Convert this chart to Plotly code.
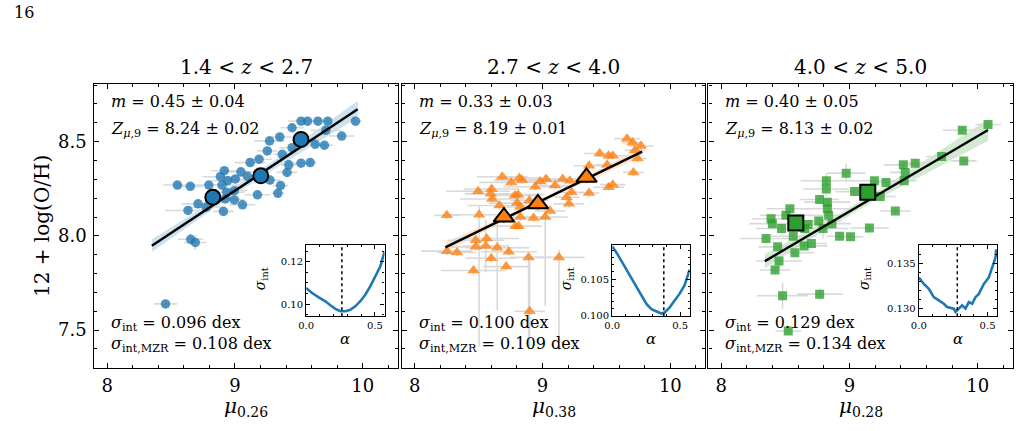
import numpy as np
import plotly.graph_objects as go

W, H = 1020, 431

# ---------------- data: panel 1 (1.4 < z < 2.7) ----------------
p1_mu = [9.447, 9.351, 9.271, 9.253, 9.447, 9.370, 9.189, 9.119, 9.421, 9.408,
         8.917, 9.047, 8.886, 9.003, 9.098, 9.274, 8.943, 8.550, 8.651, 8.796,
         8.899, 9.357, 8.995, 8.935, 9.176, 9.336, 8.925, 8.995, 8.711, 9.059,
         8.775, 8.633, 8.910, 8.654, 8.690, 8.457, 9.517, 9.568, 9.649, 9.726,
         9.943, 9.711, 9.835, 9.628, 9.700, 9.517, 9.589]
p1_oh = [8.574, 8.525, 8.504, 8.451, 8.468, 8.433, 8.407, 8.389, 8.377, 8.337,
         8.346, 8.340, 8.314, 8.302, 8.316, 8.296, 8.293, 8.270, 8.263, 8.270,
         8.270, 8.267, 8.240, 8.232, 8.218, 8.226, 8.196, 8.191, 8.170, 8.165,
         8.153, 8.135, 8.130, 7.982, 7.965, 7.639, 8.609, 8.609, 8.609, 8.609,
         8.609, 8.560, 8.530, 8.486, 8.481, 8.386, 8.389]
p1_xerr = [0.09, 0.10, 0.12, 0.08, 0.10, 0.07, 0.10, 0.12, 0.06, 0.08,
           0.10, 0.12, 0.14, 0.10, 0.09, 0.08, 0.12, 0.11, 0.10, 0.15,
           0.13, 0.06, 0.10, 0.14, 0.10, 0.05, 0.12, 0.08, 0.13, 0.10,
           0.15, 0.18, 0.08, 0.10, 0.09, 0.09, 0.10, 0.08, 0.10, 0.07,
           0.05, 0.12, 0.10, 0.08, 0.07, 0.06, 0.05]
p1_yerr = [0.02] * 33 + [0.03, 0.04, 0.02] + [0.02] * 11
p1_med_mu = [8.827, 9.202, 9.517]
p1_med_oh = [8.205, 8.319, 8.512]
p1_med_xerr = [0.03, 0.03, 0.03]
p1_med_yerr = [0.02, 0.02, 0.02]
p1_alpha = [0.0, 0.0435, 0.0918, 0.140, 0.176, 0.2125, 0.249, 0.285, 0.321,
            0.357, 0.394, 0.430, 0.466, 0.502, 0.539, 0.570]
p1_sigma = [0.1075, 0.1052, 0.1031, 0.1013, 0.0994, 0.0977, 0.0966, 0.0966,
            0.0973, 0.0989, 0.1013, 0.1044, 0.1083, 0.1127, 0.1177, 0.1247]

# ---------------- data: panel 2 (2.7 < z < 4.0) ----------------
p2_mu = [8.685, 8.755, 8.819, 8.840, 8.982, 9.028, 9.098, 9.158, 9.214, 8.943,
         8.496, 8.602, 8.594, 8.607, 8.783, 8.809, 8.801, 8.897, 8.827, 8.664,
         9.189, 9.207, 8.251, 8.504, 8.827, 8.930, 9.021, 9.059, 8.788, 8.814,
         8.478, 8.563, 8.478, 8.556, 8.646, 8.253, 8.331, 8.736, 8.599, 8.891,
         9.129, 8.460, 8.716, 8.899, 9.661, 9.705, 9.770, 9.724, 9.744, 9.711,
         9.447, 9.517, 9.550, 9.506, 9.364, 9.550, 9.517, 9.364, 9.227]
p2_oh = [8.314, 8.284, 8.307, 8.296, 8.288, 8.302, 8.267, 8.302, 8.293, 8.261,
         8.237, 8.249, 8.223, 8.196, 8.214, 8.219, 8.174, 8.188, 8.153, 8.161,
         8.205, 8.170, 8.109, 8.112, 8.100, 8.095, 8.100, 8.132, 8.051, 8.051,
         7.977, 7.986, 7.942, 7.946, 7.937, 7.919, 7.912, 7.916, 7.881, 7.886,
         7.886, 7.816, 7.837, 7.600, 8.516, 8.495, 8.477, 8.454, 8.411, 8.337,
         8.437, 8.425, 8.425, 8.377, 8.372, 8.272, 8.258, 8.228, 8.232]
p2_xerr = [0.20, 0.25, 0.18, 0.22, 0.15, 0.20, 0.12, 0.18, 0.15, 0.25,
           0.25, 0.22, 0.20, 0.25, 0.18, 0.20, 0.22, 0.15, 0.20, 0.25,
           0.10, 0.12, 0.10, 0.28, 0.20, 0.15, 0.18, 0.12, 0.20, 0.18,
           0.22, 0.25, 0.20, 0.18, 0.25, 0.20, 0.15, 0.22, 0.20, 0.15,
           0.20, 0.25, 0.18, 0.12, 0.10, 0.08, 0.10, 0.08, 0.07, 0.08,
           0.12, 0.10, 0.12, 0.10, 0.12, 0.10, 0.12, 0.08, 0.10]
p2_yerr_up = [0.02] * 23 + [0.05, 0.02, 0.02, 0.05] + [0.02] * 6 + [0.14, 0.15] + \
             [0.02] * 4 + [0.02, 0.04, 0.02, 0.02, 0.29] + [0.02] * 15
p2_yerr_dn = [0.02] * 23 + [0.70, 0.02, 0.02, 0.47] + [0.02] * 6 + [0.14, 0.33] + \
             [0.02] * 4 + [0.49, 0.49, 0.02, 0.02, 0.20] + [0.02] * 15
p2_med_mu = [8.698, 8.964, 9.344]
p2_med_oh = [8.100, 8.170, 8.311]
p2_med_xerr = [0.03, 0.03, 0.03]
p2_med_yerr = [0.03, 0.03, 0.03]
p2_alpha = [0.0, 0.0318, 0.0685, 0.1052, 0.1419, 0.1786, 0.2153, 0.2520, 0.2886,
            0.3253, 0.362, 0.3865, 0.4232, 0.4599, 0.4966, 0.5333, 0.57]
p2_sigma = [0.10949, 0.10864, 0.10748, 0.10631, 0.10514, 0.10397, 0.10280,
            0.10164, 0.10093, 0.10061, 0.10033, 0.10047, 0.10117, 0.10210,
            0.10304, 0.10421, 0.10631]

# ---------------- data: panel 3 (4.0 < z < 5.0) ----------------
p3_mu = [10.080, 9.879, 9.718, 9.891, 9.512, 9.419, 9.434, 9.426, 8.974, 9.194,
         9.284, 8.819, 8.819, 9.039, 9.240, 8.767, 8.827, 8.827, 8.837, 9.357,
         8.760, 8.863, 8.793, 8.677, 8.535, 8.504, 8.388, 8.398, 8.470, 8.651,
         8.561, 8.349, 8.439, 8.646, 8.703, 8.574, 8.450, 8.419, 8.922, 9.008,
         9.155, 8.478, 8.767, 8.522]
p3_oh = [8.591, 8.561, 8.421, 8.398, 8.386, 8.377, 8.337, 8.293, 8.333, 8.293,
         8.284, 8.293, 8.249, 8.235, 8.209, 8.193, 8.179, 8.144, 8.109, 8.132,
         8.079, 8.065, 8.039, 8.061, 8.144, 8.109, 8.091, 8.065, 8.039, 8.039,
         7.998, 7.986, 7.942, 7.947, 7.960, 7.911, 7.867, 7.819, 7.998, 7.995,
         8.042, 7.682, 7.691, 7.495]
p3_xerr = [0.10, 0.15, 0.12, 0.10, 0.10, 0.15, 0.12, 0.10, 0.15, 0.18,
           0.12, 0.20, 0.18, 0.15, 0.12, 0.15, 0.18, 0.20, 0.15, 0.12,
           0.18, 0.15, 0.20, 0.15, 0.18, 0.20, 0.15, 0.18, 0.20, 0.15,
           0.18, 0.20, 0.15, 0.18, 0.12, 0.15, 0.18, 0.12, 0.10, 0.10,
           0.15, 0.20, 0.18, 0.10]
p3_yerr = [0.02] * 8 + [0.05, 0.02, 0.02, 0.04, 0.04] + [0.02] * 9 + [0.05, 0.02] + \
          [0.02] * 6 + [0.06, 0.02, 0.02, 0.02, 0.02, 0.02, 0.04, 0.02, 0.02, 0.02,
                        0.02, 0.07, 0.03, 0.02]
p3_med_mu = [8.581, 9.142]
p3_med_oh = [8.068, 8.232]
p3_med_xerr = [0.05, 0.03]
p3_med_yerr = [0.03, 0.02]
p3_alpha = [0.0, 0.0364, 0.0728, 0.1091, 0.1455, 0.1819, 0.2061, 0.2304, 0.2547,
            0.2668, 0.2910, 0.3153, 0.3395, 0.3638, 0.3880, 0.4123, 0.4365,
            0.4729, 0.5093, 0.5336, 0.5578, 0.5627]
p3_sigma = [0.13344, 0.13270, 0.13215, 0.13122, 0.13085, 0.13048, 0.13011,
            0.13004, 0.12993, 0.12956, 0.12993, 0.13030, 0.12993, 0.13067,
            0.13048, 0.13122, 0.13159, 0.13270, 0.13344, 0.13456, 0.13567,
            0.13659]

# fit parameters & labels
slopes = [0.45, 0.33, 0.40]
slope_err = [0.04, 0.03, 0.05]
zmu9 = [8.24, 8.19, 8.13]
zmu9_err = [0.02, 0.01, 0.02]
sig_int = ["0.096", "0.100", "0.129"]
sig_mzr = ["0.108", "0.109", "0.134"]
best_alpha = [0.26, 0.38, 0.28]
fit_xrange = [(8.35, 9.96), (8.24, 9.78), (8.34, 10.08)]
zbins = [("1.4", "2.7"), ("2.7", "4.0"), ("4.0", "5.0")]
xlabels = ["0.26", "0.38", "0.28"]
inset_yticks = [([0.10, 0.12], ["0.10", "0.12"], 0.005, [0.0942, 0.1278]),
                ([0.100, 0.105], ["0.100", "0.105"], 0.001, [0.09995, 0.10967]),
                ([0.130, 0.135], ["0.130", "0.135"], 0.001, [0.12907, 0.13707])]

# ---------------- layout geometry (pixels) ----------------
def fx(p):
    return p / W

def fy(p):
    return 1 - p / H

panel_px = [(87, 393), (397, 703), (706, 1013)]
ptop, pbot = 85, 372.7
inset_px = [(300.5, 379.5), (609, 687), (918, 997)]
itop, ibot = 248, 320

colors = ["#1f77b4", "#ff7f0e", "#2ca02c"]
band_rgba = ["rgba(31,119,180,0.22)", "rgba(255,127,14,0.22)", "rgba(44,160,44,0.22)"]
symbols = ["circle", "triangle-up", "square"]
msize = [9.5, 11, 9]
bigsize = [15, 18, 15]
FONT = "DejaVu Serif"

data = [
    (p1_mu, p1_oh, p1_xerr, p1_yerr, p1_yerr, p1_med_mu, p1_med_oh, p1_med_xerr, p1_med_yerr, p1_alpha, p1_sigma),
    (p2_mu, p2_oh, p2_xerr, p2_yerr_up, p2_yerr_dn, p2_med_mu, p2_med_oh, p2_med_xerr, p2_med_yerr, p2_alpha, p2_sigma),
    (p3_mu, p3_oh, p3_xerr, p3_yerr, p3_yerr, p3_med_mu, p3_med_oh, p3_med_xerr, p3_med_yerr, p3_alpha, p3_sigma),
]

fig = go.Figure()
annotations = []
shapes = []
layout = {}

axis_common = dict(showline=True, linecolor="black", linewidth=1.2, mirror="allticks",
                   ticks="inside", tickcolor="black", ticklen=5, tickwidth=1,
                   showgrid=False, zeroline=False)

for i in range(3):
    mu, oh, xe, yeu, yed, mmu, moh, mxe, mye, al, sg = data[i]
    xa = "x" if i == 0 else f"x{i+1}"
    ya = "y" if i == 0 else f"y{i+1}"
    xi = f"x{i+4}"
    yi = f"y{i+4}"

    # fit band and line
    x0, x1 = fit_xrange[i]
    xs = np.linspace(x0, x1, 50)
    yfit = zmu9[i] + slopes[i] * (xs - 9)
    spread = np.sqrt(zmu9_err[i] ** 2 + (slope_err[i] * (xs - 9)) ** 2)
    fig.add_trace(go.Scatter(x=np.concatenate([xs, xs[::-1]]),
                             y=np.concatenate([yfit + spread, (yfit - spread)[::-1]]),
                             fill="toself", fillcolor=band_rgba[i], line=dict(width=0),
                             mode="lines", hoverinfo="skip", showlegend=False,
                             xaxis=xa, yaxis=ya))
    # data points
    fig.add_trace(go.Scatter(x=mu, y=oh, mode="markers",
                             marker=dict(symbol=symbols[i], size=msize[i], color=colors[i],
                                         opacity=0.78, line=dict(width=0)),
                             error_x=dict(type="data", array=xe, color="#d9d9d9", thickness=1.6, width=0),
                             error_y=dict(type="data", array=yeu, arrayminus=yed, symmetric=False,
                                          color="#d9d9d9", thickness=1.6, width=0),
                             showlegend=False, xaxis=xa, yaxis=ya))
    fig.add_trace(go.Scatter(x=[x0, x1], y=[zmu9[i] + slopes[i] * (x0 - 9), zmu9[i] + slopes[i] * (x1 - 9)],
                             mode="lines", line=dict(color="black", width=2.4),
                             showlegend=False, xaxis=xa, yaxis=ya))
    # binned medians
    fig.add_trace(go.Scatter(x=mmu, y=moh, mode="markers",
                             marker=dict(symbol=symbols[i], size=bigsize[i], color=colors[i],
                                         line=dict(width=2, color="black")),
                             error_x=dict(type="data", array=mxe, color="black", thickness=1.3, width=0),
                             error_y=dict(type="data", array=mye, color="black", thickness=1.3, width=0),
                             showlegend=False, xaxis=xa, yaxis=ya))
    # inset curve
    fig.add_trace(go.Scatter(x=al, y=sg, mode="lines", line=dict(color="#1f77b4", width=2.6),
                             showlegend=False, xaxis=xi, yaxis=yi))
    shapes.append(dict(type="line", xref=xi, yref=f"{yi} domain", x0=best_alpha[i], x1=best_alpha[i],
                       y0=0, y1=1, line=dict(color="black", width=1.5, dash="dot")))

    l, r = panel_px[i]
    key = "" if i == 0 else str(i + 1)
    layout["xaxis" + key] = dict(axis_common, domain=[fx(l), fx(r)], range=[7.9, 10.275],
                                 tickvals=[8, 9, 10], anchor=ya, ticklabelstandoff=1,
                                 tickfont=dict(family=FONT, size=18, color="black"),
                                 minor=dict(ticks="inside", ticklen=3, dtick=0.2, tick0=8, tickcolor="black"))
    layout["yaxis" + key] = dict(axis_common, domain=[fy(pbot), fy(ptop)], range=[7.297, 8.806],
                                 tickvals=[7.5, 8.0, 8.5], ticktext=["7.5", "8.0", "8.5"], anchor=xa,
                                 showticklabels=(i == 0), ticklabelstandoff=3,
                                 tickfont=dict(family=FONT, size=18, color="black"),
                                 minor=dict(ticks="inside", ticklen=3, dtick=0.1, tick0=7.5, tickcolor="black"))
    il, ir = inset_px[i]
    tv, tt, mdt, yr = inset_yticks[i]
    layout[f"xaxis{i+4}"] = dict(axis_common, domain=[fx(il), fx(ir)], range=[0, 0.57],
                                 tickvals=[0, 0.5], ticktext=["0.0", "0.5"], anchor=yi, ticklen=4,
                                 tickfont=dict(family=FONT, size=10, color="black"),
                                 minor=dict(ticks="inside", ticklen=2, dtick=0.1, tick0=0, tickcolor="black"))
    layout[f"yaxis{i+4}"] = dict(axis_common, domain=[fy(ibot), fy(itop)], range=yr,
                                 tickvals=tv, ticktext=tt, anchor=xi, ticklen=4,
                                 tickfont=dict(family=FONT, size=10, color="black"),
                                 minor=dict(ticks="inside", ticklen=2, dtick=mdt, tick0=tv[0], tickcolor="black"))

    cx = (l + r) / 2
    tf = dict(family=FONT, color="black")
    lo, hi = zbins[i]
    annotations.append(dict(x=fx(cx), y=fy(68), xref="paper", yref="paper",
                            text=f"{lo} &lt; <i>z</i> &lt; {hi}",
                            showarrow=False, font=dict(tf, size=20), xanchor="center", yanchor="middle"))
    annotations.append(dict(x=fx(cx), y=fy(412), xref="paper", yref="paper",
                            text=f"<i>μ</i><sub>{xlabels[i]}</sub>",
                            showarrow=False, font=dict(tf, size=20), xanchor="center", yanchor="middle"))
    annotations.append(dict(x=fx(l + 15), y=fy(103), xref="paper", yref="paper",
                            text=f"<i>m</i> = {slopes[i]:.2f} ± {slope_err[i]:.2f}",
                            showarrow=False, font=dict(tf, size=16), xanchor="left", yanchor="middle"))
    annotations.append(dict(x=fx(l + 15), y=fy(131), xref="paper", yref="paper",
                            text=f"<i>Z</i><sub><i>μ</i>,9</sub> = {zmu9[i]:.2f} ± {zmu9_err[i]:.2f}",
                            showarrow=False, font=dict(tf, size=16), xanchor="left", yanchor="middle"))
    annotations.append(dict(x=fx(l + 15), y=fy(327), xref="paper", yref="paper",
                            text=f"<i>σ</i><sub>int</sub> = {sig_int[i]} dex",
                            showarrow=False, font=dict(tf, size=16), xanchor="left", yanchor="middle"))
    annotations.append(dict(x=fx(l + 15), y=fy(349), xref="paper", yref="paper",
                            text=f"<i>σ</i><sub>int,MZR</sub> = {sig_mzr[i]} dex",
                            showarrow=False, font=dict(tf, size=16), xanchor="left", yanchor="middle"))
    # inset labels
    off = 46 if i < 2 else 55
    annotations.append(dict(x=fx(il - off), y=fy((itop + ibot) / 2 - 2), xref="paper", yref="paper",
                            text="<i>σ</i><sub>int</sub>", textangle=-90,
                            showarrow=False, font=dict(tf, size=14), xanchor="center", yanchor="middle"))
    annotations.append(dict(x=fx((il + ir) / 2), y=fy(343), xref="paper", yref="paper",
                            text="<i>α</i>",
                            showarrow=False, font=dict(tf, size=15), xanchor="center", yanchor="middle"))

annotations.append(dict(x=fx(35), y=fy(229), xref="paper", yref="paper",
                        text="12 + log(O/H)",
                        textangle=-90, showarrow=False, font=dict(family=FONT, size=20, color="black"),
                        xanchor="center", yanchor="middle"))
annotations.append(dict(x=fx(4), y=fy(13), xref="paper", yref="paper", text="16",
                        showarrow=False, font=dict(family=FONT, size=16, color="black"),
                        xanchor="left", yanchor="middle"))

fig.update_layout(width=W, height=H, margin=dict(l=0, r=0, t=0, b=0),
                  paper_bgcolor="white", plot_bgcolor="white",
                  annotations=annotations, shapes=shapes, showlegend=False,
                  font=dict(family=FONT, color="black"), **layout)

fig.write_html("out.html")
